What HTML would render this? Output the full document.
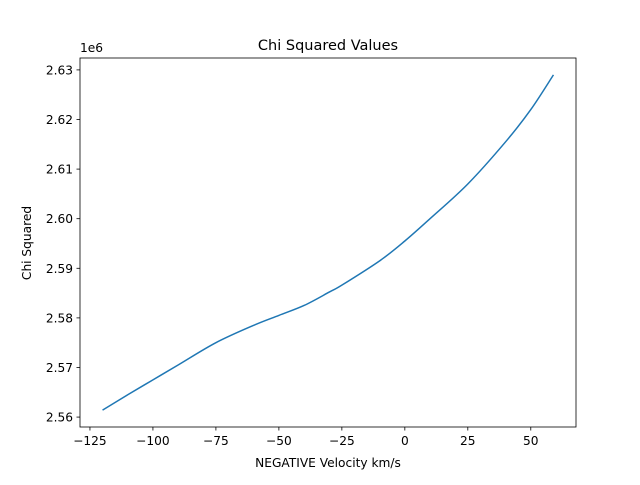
<!DOCTYPE html>
<html><head><meta charset="utf-8"><style>
body{margin:0;background:#fff}
svg text{font-family:"DejaVu Sans","Liberation Sans",sans-serif;fill:#000}
</style></head><body>
<svg id="c" width="640" height="480"></svg>
<script>
const xs=[-120,-110,-100,-90,-75,-60,-50,-40,-30,-25,-10,0,10,25,40,50,59];
const ys=[2.5614,2.5645,2.5675,2.5705,2.5750,2.5785,2.5805,2.5825,2.5852,2.5866,2.5915,2.5955,2.6,2.6070,2.6155,2.6220,2.629];
const xTicks=[-125,-100,-75,-50,-25,0,25,50];
const yTicks=[2.56,2.57,2.58,2.59,2.60,2.61,2.62,2.63];
const yTickLabels=["2.56","2.57","2.58","2.59","2.60","2.61","2.62","2.63"];
const L=80,R=576,T=58,B=427;
const xmin=-128.95,xmax=67.95,ymin=2.5580,ymax=2.6324;
const X=v=>L+(v-xmin)/(xmax-xmin)*(R-L);
const Y=v=>B-(v-ymin)/(ymax-ymin)*(B-T);
const s=document.getElementById('c');const NS='http://www.w3.org/2000/svg';
function el(t,a,txt){const e=document.createElementNS(NS,t);for(const k in a)e.setAttribute(k,a[k]);if(txt!=null)e.textContent=txt;s.appendChild(e);return e;}
xTicks.forEach(v=>{const x=X(v);
const t=el('line',{x1:x,x2:x,y1:B,y2:B+3.5,stroke:'#000','stroke-width':0.8});


const l=el('text',{x:x,y:B+18,'text-anchor':'middle','font-size':12.2},v<0?'\u2212'+(-v):String(v));

});
yTicks.forEach((v,i)=>{const y=Y(v);
const t=el('line',{x1:L-3.5,x2:L,y1:y,y2:y,stroke:'#000','stroke-width':0.8});


const l=el('text',{x:L-7,y:y+4.5,'text-anchor':'end','font-size':12.2},yTickLabels[i]);

});
const P=xs.map((v,i)=>[X(v),Y(ys[i])]);
let d='M'+P[0][0]+','+P[0][1];
for(let i=0;i<P.length-1;i++){const p0=P[Math.max(0,i-1)],p1=P[i],p2=P[i+1],p3=P[Math.min(P.length-1,i+2)];
d+=' C'+(p1[0]+(p2[0]-p0[0])/6)+','+(p1[1]+(p2[1]-p0[1])/6)+' '+(p2[0]-(p3[0]-p1[0])/6)+','+(p2[1]-(p3[1]-p1[1])/6)+' '+p2[0]+','+p2[1];}
const p=el('path',{d:d,fill:'none',stroke:'#1f77b4','stroke-width':1.5,'stroke-linejoin':'round'});


const f=el('rect',{x:L,y:T,width:R-L,height:B-T,fill:'none',stroke:'#000','stroke-width':0.8});


</script>
<svg style="position:absolute;left:0;top:0" width="640" height="480">
<text x="328" y="50" text-anchor="middle" font-size="14.5">Chi Squared Values</text>
<text x="328" y="467" text-anchor="middle" font-size="12.2">NEGATIVE Velocity km/s</text>
<text transform="translate(31,243) rotate(-90)" text-anchor="middle" font-size="12.2">Chi Squared</text>
<text x="80" y="52" font-size="12.2">1e6</text>
</svg>
</body></html>
